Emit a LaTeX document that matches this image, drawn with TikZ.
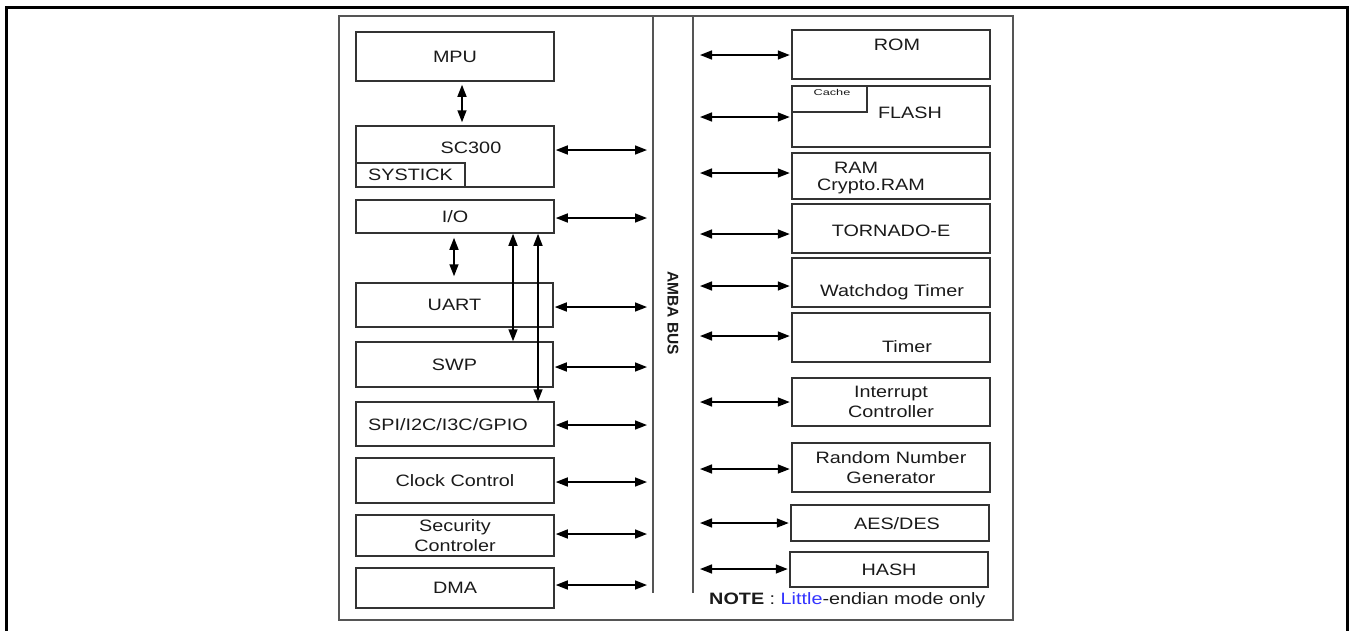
\documentclass[tikz,border=0pt]{standalone}
\usepackage{fontspec}
\setmainfont[FakeStretch=1.2]{Liberation Sans}
\newfontfamily\busfont{Liberation Sans}
\newfontfamily\widefont[FakeStretch=1.5]{Liberation Sans}
\usetikzlibrary{arrows.meta}
\definecolor{txt}{HTML}{1A1A1A}
\definecolor{boxc}{HTML}{333333}
\definecolor{framec}{HTML}{555555}
\definecolor{noteblue}{HTML}{3333FF}
\begin{document}
\begin{tikzpicture}[x=1pt,y=-1pt,
  blk/.style={draw=boxc, line width=1.5pt, minimum width=198pt, inner sep=0pt, align=center, text=txt, font=\fontsize{16.5}{20}\selectfont},
  lbl/.style={inner sep=0pt, text=txt, font=\fontsize{16.5}{20}\selectfont, align=center},
  arr/.style={{Triangle[length=12pt,width=9pt]}-{Triangle[length=12pt,width=9pt]}, line width=1.6pt, black},
  larr/.style={arr, shorten <=1pt, shorten >=6pt},
  rarr/.style={arr, shorten <=7pt, shorten >=1.5pt},
]
\useasboundingbox (0,0) rectangle (1353,630);
% outer frame (open at bottom)
\draw[line width=3pt] (6,632) -- (6,7) -- (1347,7) -- (1347,632);
% inner frame
\draw[framec, line width=2pt] (339,16) rectangle (1013,620);
% AMBA bus lines
\coordinate (busltop) at (653,16);
\coordinate (buslbot) at (653,593);
\coordinate (busrtop) at (693,16);
\coordinate (busrbot) at (693,593);
\draw[framec, line width=2pt] (busltop) -- (buslbot);
\draw[framec, line width=2pt] (busrtop) -- (busrbot);
\node[rotate=-90, inner sep=0pt, text=txt, font=\busfont\bfseries\fontsize{15.5}{18}\selectfont] (bus) at (673,313) {AMBA BUS};

% ---------- left column ----------
\node[blk, minimum height=49pt] (mpu) at (455,56.5) {MPU};
\node[blk, minimum height=61pt] (sc) at (455,156.5) {};
\node[lbl] (sctxt) at (471,148) {SC300};
\node[blk, minimum width=109pt, minimum height=24pt] (systick) at (410.5,175) {SYSTICK};
\node[blk, minimum height=33pt] (io) at (455,216.5) {I/O};
\node[blk, minimum width=197pt, minimum height=44pt] (uart) at (454.5,305) {UART};
\node[blk, minimum width=197pt, minimum height=45pt] (swp) at (454.5,364.5) {SWP};
\node[blk, minimum height=44pt] (spi) at (455,424) {};
\node[lbl] (spitxt) at (448,425) {SPI/I2C/I3C/GPIO};
\node[blk, minimum height=45pt] (clk) at (455,480.5) {Clock Control};
\node[blk, minimum height=41pt] (sec) at (455,535.5) {Security\\Controler};
\node[blk, minimum height=40pt] (dma) at (455,588) {DMA};

% vertical arrows
\draw[arr, shorten <=3pt, shorten >=3pt] ([xshift=7pt]mpu.south) -- ([xshift=7pt]sc.north);
\draw[arr, shorten <=4pt, shorten >=6pt] ([xshift=-1pt]io.south) -- ([xshift=-0.5pt]uart.north);
\draw[arr] ([xshift=58pt]io.south) -- ([xshift=58.5pt]swp.north);
\draw[arr] ([xshift=83pt]io.south) -- ([xshift=83pt]spi.north);

% left arrows to bus
\coordinate (scport) at ([yshift=6.5pt]sc.east);
\draw[larr] (scport) -- (scport -| busltop);
\draw[larr] ([yshift=-1.5pt]io.east) -- ([yshift=-1.5pt]io.east -| busltop);
\draw[larr] ([yshift=-2pt]uart.east) -- ([yshift=-2pt]uart.east -| busltop);
\draw[larr] ([yshift=-2.5pt]swp.east) -- ([yshift=-2.5pt]swp.east -| busltop);
\draw[larr] ([yshift=-1pt]spi.east) -- ([yshift=-1pt]spi.east -| busltop);
\draw[larr] ([yshift=-1.5pt]clk.east) -- ([yshift=-1.5pt]clk.east -| busltop);
\draw[larr] ([yshift=1.5pt]sec.east) -- ([yshift=1.5pt]sec.east -| busltop);
\draw[larr] ([yshift=3pt]dma.east) -- ([yshift=3pt]dma.east -| busltop);

% ---------- right column ----------
\node[blk, minimum height=49pt] (rom) at (891,54.5) {};
\node[lbl] (romtxt) at (897,45) {ROM};
\node[blk, minimum height=61pt] (flash) at (891,116.5) {};
\node[lbl] (flashtxt) at (910,113) {FLASH};
\node[draw=boxc, line width=1.5pt, minimum width=75pt, minimum height=26pt, inner sep=0pt] (cache) at (829.5,99) {};
\node[inner sep=0pt, text=txt, font=\widefont\fontsize{8.5}{10}\selectfont] (cachetxt) at (832,92.5) {Cache};
\node[blk, minimum height=46pt] (ram) at (891,176) {};
\node[lbl] (ramtxt) at (856,167.5) {RAM};
\node[lbl] (cramtxt) at (871,186.5) {Crypto.RAM};
\node[blk, minimum height=49pt] (tor) at (891,228.5) {};
\node[lbl] (tortxt) at (891,231) {TORNADO-E};
\node[blk, minimum height=49pt] (wdt) at (891,282.5) {};
\node[lbl] (wdttxt) at (892,292) {Watchdog Timer};
\node[blk, minimum height=49pt] (tmr) at (891,337.5) {};
\node[lbl] (tmrtxt) at (907,347) {Timer};
\node[blk, minimum height=48pt] (irq) at (891,402) {Interrupt\\Controller};
\node[blk, minimum height=49pt] (rng) at (891,467.5) {Random Number\\Generator};
\node[blk, minimum height=36pt] (aes) at (890,523) {};
\node[lbl] (aestxt) at (897,523.5) {AES/DES};
\node[blk, minimum height=35pt] (hash) at (889,569.5) {HASH};

% right arrows from bus
\coordinate (romport) at ([yshift=-0.5pt]rom.west);
\draw[rarr] (romport -| busrtop) -- (romport);
\coordinate (flashport) at ([yshift=-0.5pt]flash.west);
\draw[rarr] (flashport -| busrtop) -- (flashport);
\coordinate (ramport) at ([yshift=3pt]ram.west);
\draw[rarr] (ramport -| busrtop) -- (ramport);
\coordinate (torport) at ([yshift=-5.5pt]tor.west);
\draw[rarr] (torport -| busrtop) -- (torport);
\coordinate (wdtport) at ([yshift=-3.5pt]wdt.west);
\draw[rarr] (wdtport -| busrtop) -- (wdtport);
\coordinate (tmrport) at ([yshift=1.5pt]tmr.west);
\draw[rarr] (tmrport -| busrtop) -- (tmrport);
\draw[rarr] (irq.west -| busrtop) -- (irq.west);
\coordinate (rngport) at ([yshift=-1.5pt]rng.west);
\draw[rarr] (rngport -| busrtop) -- (rngport);
\draw[rarr] (aes.west -| busrtop) -- (aes.west);
\coordinate (hashport) at ([yshift=0.5pt]hash.west);
\draw[rarr] (hashport -| busrtop) -- (hashport);

% note
\node[inner sep=0pt, text=txt, font=\fontsize{16.5}{19}\selectfont, anchor=west] (note) at (709,600) {\textbf{NOTE} : \textcolor{noteblue}{Little}-endian mode only};
\end{tikzpicture}
\end{document}
